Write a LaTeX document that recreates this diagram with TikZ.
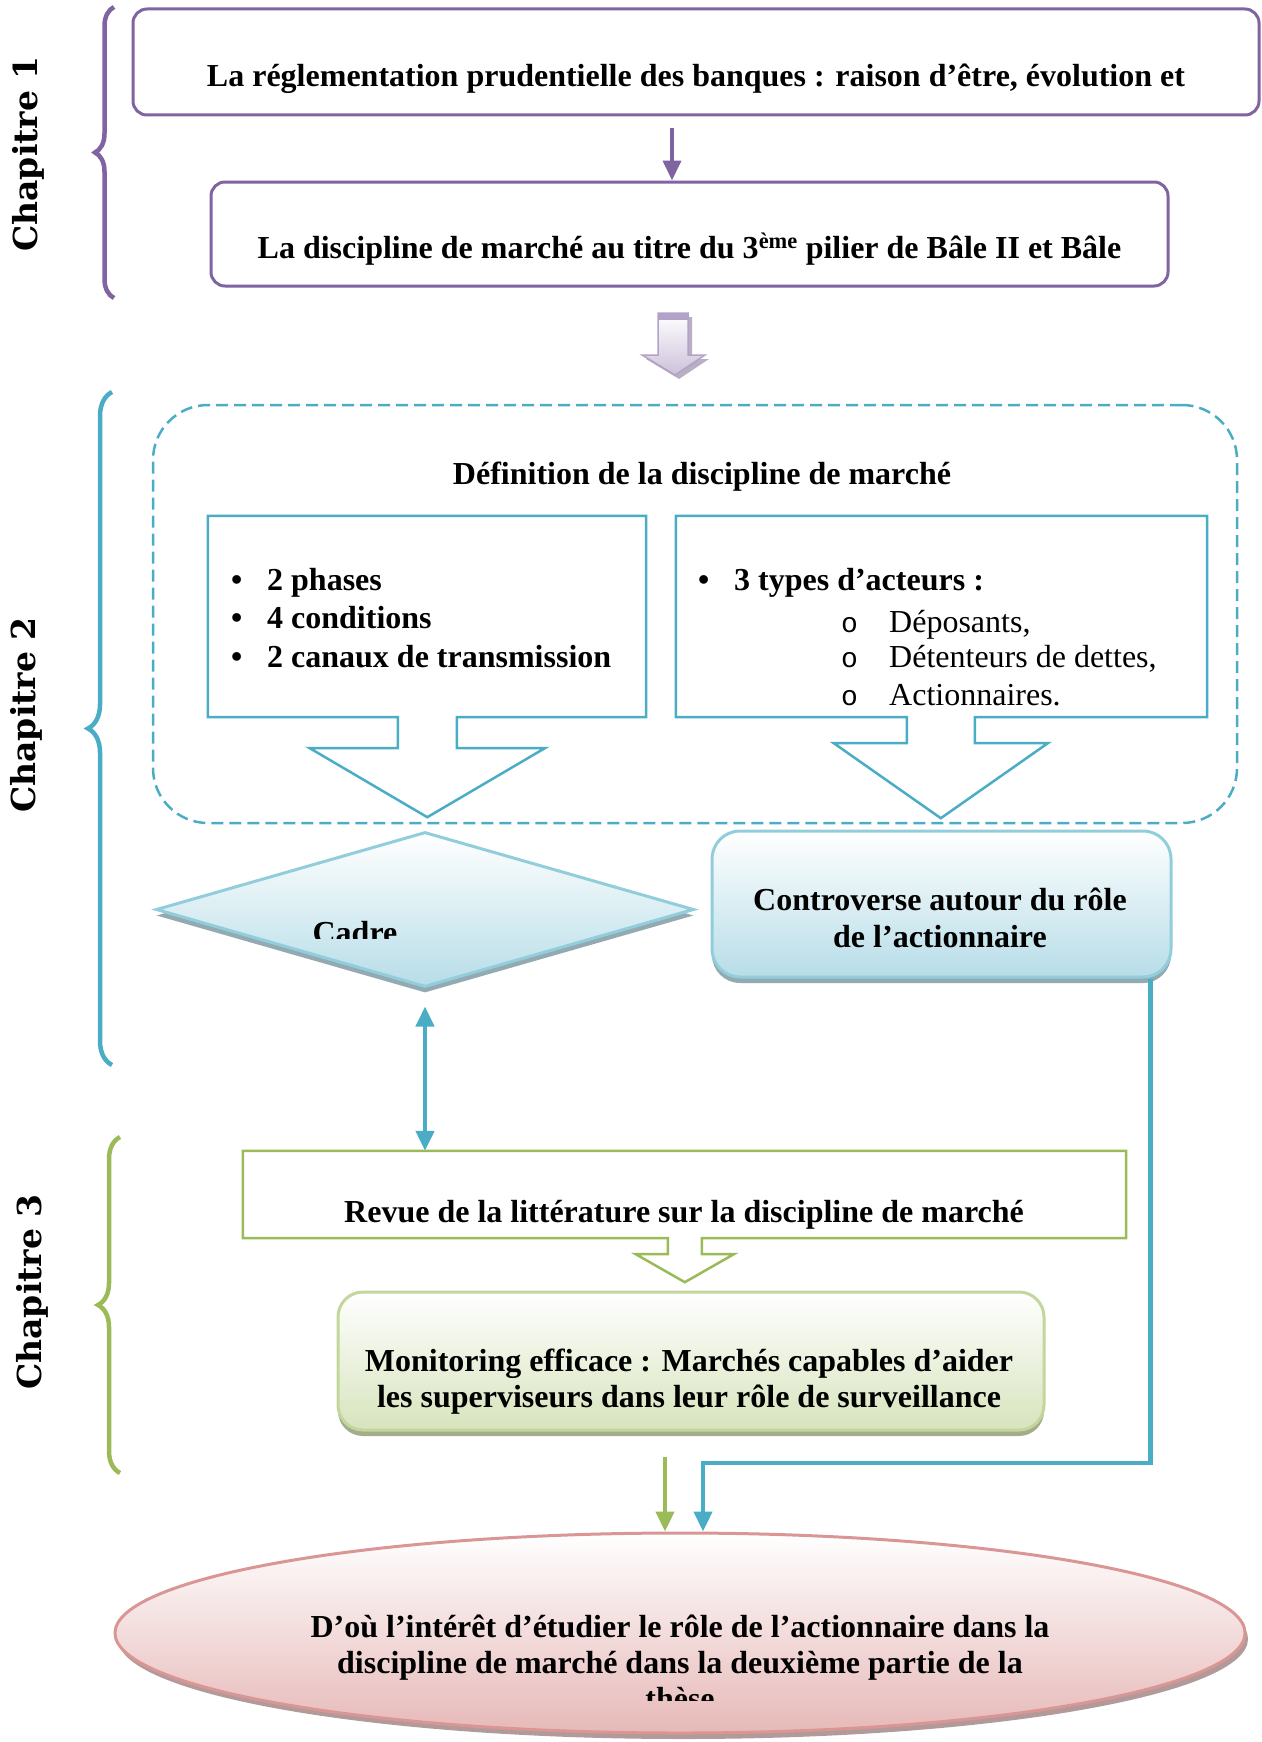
\documentclass[tikz,border=0pt]{standalone}
\usepackage{fontspec}
\setmainfont{Liberation Serif}
\newfontfamily\chapfont{DejaVu Serif}
\newfontfamily\subfont{Liberation Mono}
\usepackage{xcolor}
\usepackage{tikz}
\usetikzlibrary{positioning,arrows.meta,shapes.geometric,calc,decorations.pathreplacing,shadows}

\definecolor{chapone}{HTML}{8064A2}
\definecolor{chaptwo}{HTML}{4BACC6}
\definecolor{chapthree}{HTML}{9BBB59}
\definecolor{bluelight}{HTML}{92CDDC}
\definecolor{bluefill}{HTML}{B7DDE8}
\definecolor{blueshadow}{HTML}{93AAB2}
\definecolor{greenlight}{HTML}{C3D69B}
\definecolor{greenfill}{HTML}{D7E4BD}
\definecolor{greenshadow}{HTML}{A3AC8C}
\definecolor{pinkline}{HTML}{D99694}
\definecolor{pinkfill}{HTML}{E6B9B8}
\definecolor{pinkshadow}{HTML}{B39A9A}
\definecolor{lavline}{HTML}{B3A2C7}
\definecolor{lavfill}{HTML}{CCC1DA}
\definecolor{lavshadow}{HTML}{B8B0C2}

\newcommand{\bul}{\makebox[36pt][l]{\textbullet}}
\newcommand{\subbul}{\makebox[48pt][l]{\subfont\mdseries\fontsize{28}{30}\selectfont o}}

\begin{document}
\begin{tikzpicture}[
  x=1pt, y=-1pt,
  font=\fontsize{32}{36}\selectfont\bfseries,
  chapbox/.style={draw=chapone, line width=3pt, rounded corners=14pt, inner sep=0pt},
  defzone/.style={draw=chaptwo, line width=2.5pt, dash pattern=on 12pt off 6pt,
                  rounded corners=55pt, inner sep=0pt},
  listbox/.style={inner sep=0pt},
  callout/.style={line width=2.5pt},
  bluebox/.style={draw=bluelight, line width=3pt, top color=white, bottom color=bluefill,
                  inner sep=0pt, general shadow={fill=blueshadow, shadow yshift=-6pt}},
  greenbox/.style={draw=greenlight, line width=3pt, top color=white, bottom color=greenfill,
                   rounded corners=25pt, inner sep=0pt,
                   general shadow={fill=greenshadow, shadow yshift=-6pt}},
  pinkbox/.style={ellipse, draw=pinkline, line width=3pt, top color=white, bottom color=pinkfill,
                  inner sep=0pt, general shadow={fill=pinkshadow, shadow xshift=3pt, shadow yshift=-6pt}},
  txt/.style={anchor=base, inner sep=0pt},
  item/.style={anchor=base west, inner sep=0pt},
  chap/.style={rotate=90, inner sep=0pt, font=\chapfont\fontsize{33}{36}\selectfont\bfseries},
  chapbrace/.style={decorate, decoration={brace, amplitude=#1}, line width=4.5pt},
  link/.style={line width=4.5pt, -{Triangle[length=20pt, width=18pt]}}
]
\useasboundingbox (0,0) rectangle (1261,1742);

% chapitre 1
\node[chap] (ch1) at (28,154) {Chapitre 1};
\draw[chapbrace=19pt, draw=chapone] (114,298) -- (114,7);

\node[chapbox, minimum width=1126pt, minimum height=106pt] (reg) at (696,62) {};
\node[txt] (regtext) at (696,87) {La réglementation prudentielle des banques : raison d’être, évolution et};

\node[chapbox, minimum width=957pt, minimum height=104pt] (disc) at (689.5,234) {};
\node[txt] (disctext) at (689.5,258) {La discipline de marché au titre du 3\textsuperscript{ème} pilier de Bâle II et Bâle};

\coordinate (a1) at (672,128);
\draw[link, draw=chapone, line width=4pt] (a1) -- (a1 |- disc.north);

% big arrow to chapitre 2
\fill[lavshadow] (662,317) -- (692,317) -- (692,359) -- (709,359) -- (679,379) -- (646,359) -- (662,359) -- cycle;
\shade[top color=white, bottom color=lavfill, draw=lavline, line width=1.5pt]
  (658,313) -- (688,313) -- (688,355) -- (705,355) -- (675,375) -- (642,355) -- (658,355) -- cycle;
\fill[lavline] (658,313) rectangle (688,320);

% chapitre 2
\node[chap] (ch2) at (26,715) {Chapitre 2};
\draw[chapbrace=24pt, draw=chaptwo] (112,1065) -- (112,392);

\node[defzone, minimum width=1084pt, minimum height=418pt] (defzone) at (695,614) {};
\node[txt] (deftext) at (702,484) {Définition de la discipline de marché};

\node[listbox, minimum width=438pt, minimum height=201pt] (phases) at (427,616.5) {};
\draw[callout, draw=chaptwo] (phases.south east) -- (phases.north east) -- (phases.north west) -- (phases.south west)
  -- ++(190,0) -- ++(0,31) -- ++(-88,0) -- ++(117.5,69) -- ++(117.5,-69) -- ++(-88,0) -- ++(0,-31) -- cycle;
\foreach \y/\t [count=\i] in {590/2 phases, 628/4 conditions, 667/2 canaux de transmission}
  \node[item] (l\i) at (231,\y) {\bul\t};

\node[listbox, minimum width=531pt, minimum height=201pt] (acteurs) at (941.5,616.5) {};
\draw[callout, draw=chaptwo] (acteurs.south east) -- (acteurs.north east) -- (acteurs.north west) -- (acteurs.south west)
  -- ++(231,0) -- ++(0,26) -- ++(-73,0) -- ++(107,75) -- ++(107,-75) -- ++(-73,0) -- ++(0,-26) -- cycle;
\node[item] (r1) at (698,590) {\bul 3 types d’acteurs :};
\foreach \y/\t [count=\i] in {632/Déposants{,}, 667/Détenteurs de dettes{,}, 705/Actionnaires.}
  \node[item, font=\fontsize{32}{36}\selectfont\mdseries] (s\i) at (841,\y) {\subbul\t};

\node[bluebox, diamond, minimum width=538pt, minimum height=155pt] (cadre) at (425,909.5) {};
\begin{scope}
  \clip (150,880) rectangle (700,938);
  \node[txt] (cadretext) at (355,943) {Cadre};
\end{scope}

\node[bluebox, rounded corners=28pt, minimum width=459pt, minimum height=146pt] (contro) at (941.5,904) {};
\node[txt] (contro1) at (940,910) {Controverse autour du rôle};
\node[txt] (contro2) at (940,947) {de l’actionnaire};

% chapitre 3
\node[chap] (ch3) at (32,1292) {Chapitre 3};
\draw[chapbrace=22pt, draw=chapthree] (120,1473) -- (120,1137);

\node[listbox, minimum width=883pt, minimum height=87pt] (revue) at (684.5,1194.5) {};
\draw[callout, draw=chapthree] (revue.south east) -- (revue.north east) -- (revue.north west) -- (revue.south west)
  -- ++(425,0) -- ++(0,16) -- ++(-32,0) -- ++(49,28) -- ++(49,-28) -- ++(-32,0) -- ++(0,-16) -- cycle;
\node[txt] (revuetext) at (684,1222) {Revue de la littérature sur la discipline de marché};

\draw[link, draw=chaptwo, {Triangle[length=20pt, width=18pt]}-{Triangle[length=20pt, width=18pt]}]
  ([yshift=-18pt]cadre.south) -- (cadre.south |- revue.north);

\node[greenbox, minimum width=706pt, minimum height=138pt] (moni) at (691,1361) {};
\node[txt] (moni1) at (689,1371) {Monitoring efficace : Marchés capables d’aider};
\node[txt] (moni2) at (689,1407) {les superviseurs dans leur rôle de surveillance};

% conclusion
\node[pinkbox, minimum width=1130pt, minimum height=200pt] (doou) at (680,1633) {};
\node[txt] (doou1) at (680,1637) {D’où l’intérêt d’étudier le rôle de l’actionnaire dans la};
\node[txt] (doou2) at (680,1673) {discipline de marché dans la deuxième partie de la};
\begin{scope}
  \clip (500,1680) rectangle (860,1700);
  \node[txt] (doou3) at (680,1709) {thèse};
\end{scope}

\coordinate (g1) at (665,1457);
\draw[link, draw=chapthree] (g1) -- (g1 |- doou.north);
\coordinate (bend) at (703,1463);
\draw[link, draw=chaptwo] ([xshift=-22pt]contro.south east) |- (bend) -- (bend |- doou.north);

\end{tikzpicture}
\end{document}
